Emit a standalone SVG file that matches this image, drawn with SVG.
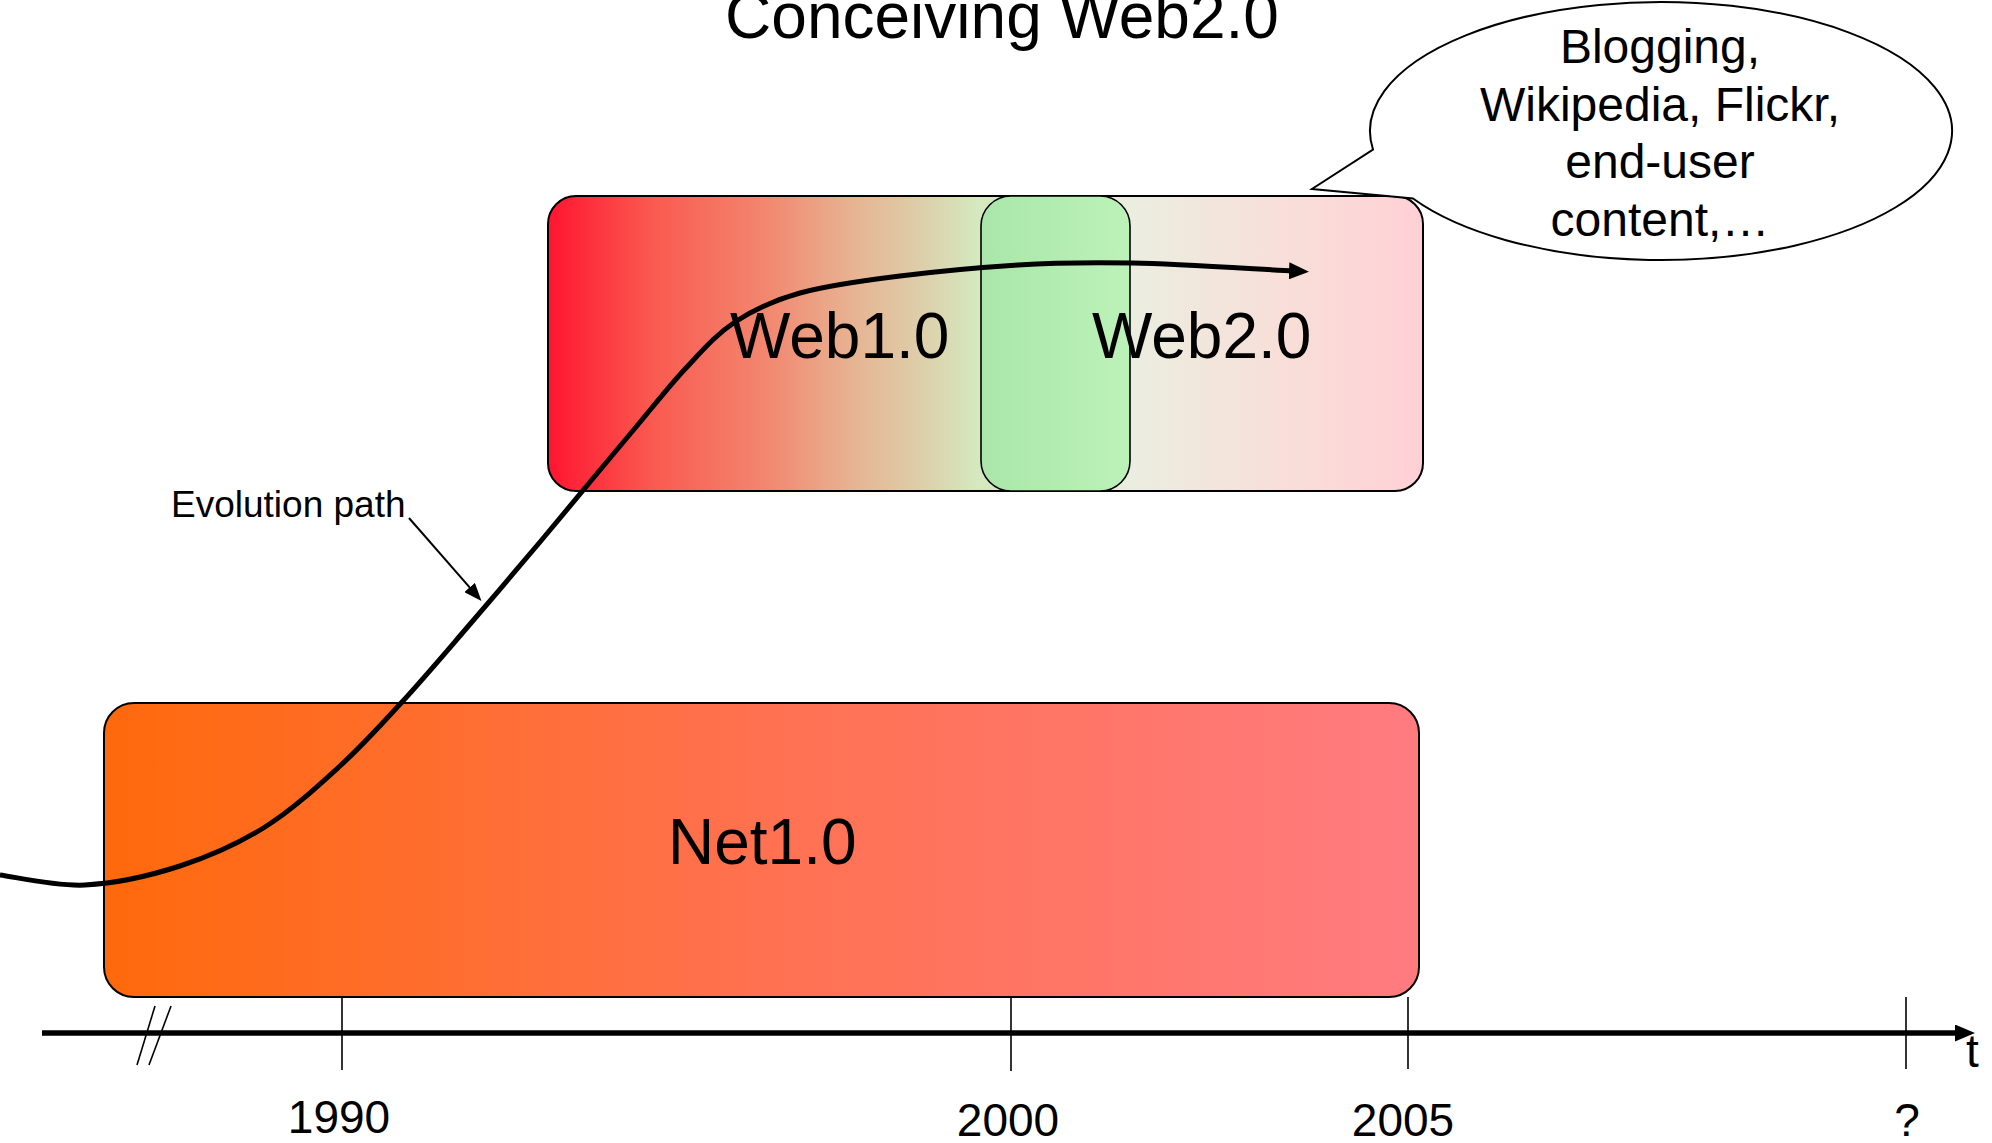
<svg xmlns="http://www.w3.org/2000/svg" width="1992" height="1143" viewBox="0 0 1992 1143">
<style>
text{font-family:"Liberation Sans",Arial,sans-serif;fill:#000}
.box{stroke:#000;stroke-width:2}
.tick{stroke:#000;stroke-width:1.6;fill:none}
.yr{font-size:46px;text-anchor:middle}
.big{font-size:64px}
.bub{font-size:48px;text-anchor:middle}
</style>
<defs>
<linearGradient id="gWeb" x1="0" y1="0" x2="1" y2="0">
<stop offset="0" stop-color="#FF1530"/>
<stop offset="0.12" stop-color="#FA5A50"/>
<stop offset="0.25" stop-color="#F2876F"/>
<stop offset="0.35" stop-color="#E7B493"/>
<stop offset="0.42" stop-color="#DECCA8"/>
<stop offset="0.49" stop-color="#D5E8BE"/>
<stop offset="0.67" stop-color="#EBEDE0"/>
<stop offset="0.84" stop-color="#F8DFD8"/>
<stop offset="1" stop-color="#FFD0D6"/>
</linearGradient>
<linearGradient id="gGreen" x1="0" y1="0" x2="1" y2="0">
<stop offset="0" stop-color="#AAE6A9"/>
<stop offset="1" stop-color="#BCF2B8"/>
</linearGradient>
<linearGradient id="gNet" x1="0" y1="0" x2="1" y2="0">
<stop offset="0" stop-color="#FF690C"/>
<stop offset="0.5" stop-color="#FF7150"/>
<stop offset="1" stop-color="#FF7B80"/>
</linearGradient>
<marker id="ah" markerUnits="userSpaceOnUse" markerWidth="20" markerHeight="17" viewBox="0 0 20 17" refX="4" refY="8.5" orient="auto">
<path d="M0,0 L20,8.5 L0,17 Z" fill="#000"/>
</marker>
<marker id="ahs" markerUnits="userSpaceOnUse" markerWidth="18" markerHeight="14" viewBox="0 0 18 14" refX="3" refY="7" orient="auto">
<path d="M0,0 L18,7 L0,14 Z" fill="#000"/>
</marker>
</defs>
<rect width="1992" height="1143" fill="#fff"/>

<g id="title"><text x="1002" y="38" font-size="64" text-anchor="middle">Conceiving Web2.0</text></g>

<g id="net10">
<rect class="box" x="104" y="703" width="1315" height="294" rx="30" ry="30" fill="url(#gNet)"/>
<text class="big" x="668" y="864">Net1.0</text>
</g>

<g id="web">
<rect class="box" x="548" y="196" width="875" height="295" rx="28" ry="28" fill="url(#gWeb)"/>
</g>
<g id="overlap">
<rect x="981" y="196" width="149" height="295" rx="30" ry="30" fill="url(#gGreen)" stroke="#000" stroke-width="1.6"/>
</g>
<g id="web10"><text class="big" x="730" y="358">Web1.0</text></g>
<g id="web20"><text class="big" x="1092" y="358">Web2.0</text></g>

<g id="bubble">
<path d="M1413,198.5 A291 129 0 1 0 1373,149.5 L1312,189 Z" fill="#fff" stroke="#000" stroke-width="2"/>
<text class="bub" x="1660" y="63">Blogging,</text>
<text class="bub" x="1660" y="121">Wikipedia, Flickr,</text>
<text class="bub" x="1660" y="178">end-user</text>
<text class="bub" x="1660" y="236">content,…</text>
</g>

<g id="evolution-label"><text x="171" y="517" font-size="37">Evolution path</text></g>

<g id="axis">
<line x1="42" y1="1033" x2="1959" y2="1033" stroke="#000" stroke-width="5.5" marker-end="url(#ah)"/>
<line class="tick" x1="342" y1="997" x2="342" y2="1070"/>
<line class="tick" x1="1011" y1="997" x2="1011" y2="1071"/>
<line class="tick" x1="1408" y1="997" x2="1408" y2="1069"/>
<line class="tick" x1="1906" y1="997" x2="1906" y2="1069"/>
<line class="tick" x1="137" y1="1065" x2="155" y2="1006"/>
<line class="tick" x1="149" y1="1065" x2="171" y2="1006"/>
<text class="yr" x="339" y="1133">1990</text>
<text class="yr" x="1008" y="1136">2000</text>
<text class="yr" x="1403" y="1136">2005</text>
<text class="yr" x="1907" y="1136">?</text>
<text x="1966" y="1067" font-size="46">t</text>
</g>

<g id="connectors" fill="none" stroke="#000">
<path stroke-width="5" marker-end="url(#ah)" d="M0,875 C14.2,876.7 55,886.5 85,885 C115,883.5 150,875.7 180,866 C210,856.3 238.3,843.7 265,827 C291.7,810.3 317.2,786.8 340,766 C362.8,745.2 381.2,724.7 402,702 C422.8,679.3 442,656.7 465,630 C488,603.3 519.2,566.7 540,542 C560.8,517.3 574,501.2 590,482 C606,462.8 620,446 636,427 C652,408 669.5,385.5 686,368 C702.5,350.5 716,334.5 735,322 C754,309.5 772.5,300.7 800,293 C827.5,285.3 863.7,280.5 900,276 C936.3,271.5 979.2,267.5 1018,265 C1056.8,262.5 1086.7,262.2 1133,263 C1179.3,263.8 1266,269.8 1293,271"/>
<line x1="409" y1="518" x2="471.6" y2="589.7" stroke-width="2" marker-end="url(#ahs)"/>
</g>
</svg>
